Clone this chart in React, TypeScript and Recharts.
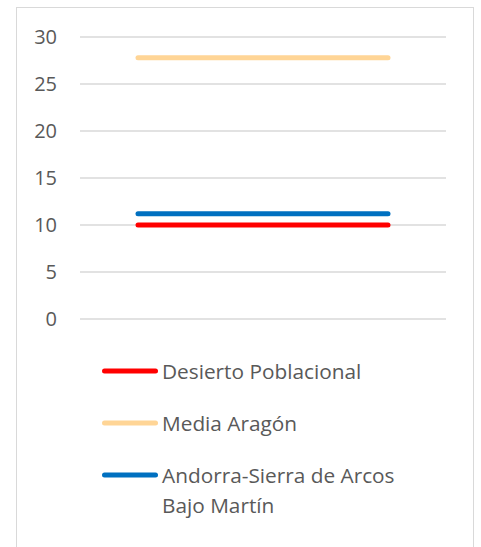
import { LineChart, Line, XAxis, YAxis, CartesianGrid, Legend } from "recharts";

const CATEGORIES = ["inicio", "fin"];
const DESIERTO = [10, 10];
const MEDIA_ARAGON = [27.8, 27.8];
const ANDORRA = [11.2, 11.2];
const Y_TICKS = [0, 5, 10, 15, 20, 25, 30];

const SERIES = [
  { key: "desierto", name: "Desierto Poblacional", color: "#ff0000", values: DESIERTO },
  { key: "media", name: "Media Aragón", color: "#ffd596", values: MEDIA_ARAGON },
  { key: "andorra", name: "Andorra-Sierra de Arcos Bajo Martín", color: "#0070c0", values: ANDORRA },
];

const data = CATEGORIES.map((c, i) => {
  const row: Record<string, string | number> = { cat: c };
  SERIES.forEach((s) => (row[s.key] = s.values[i]));
  return row;
});

const FONT = "'Open Sans', sans-serif";
const TEXT = "#595959";

function LegendList({ payload }: any) {
  // keep the series order, not the alphabetical one
  const items = [...(payload || [])].sort(
    (a: any, b: any) =>
      SERIES.findIndex((s) => s.key === a.dataKey) - SERIES.findIndex((s) => s.key === b.dataKey)
  );
  return (
    <div style={{ fontFamily: FONT, fontSize: 20.8, color: TEXT, lineHeight: "30px" }}>
      {items.map((p: any, i: number) => (
        <div key={i} style={{ display: "flex", alignItems: "flex-start", marginBottom: 22 }}>
          <svg width={63} height={30} style={{ flex: "none" }}>
            <line x1={5.5} y1={15} x2={56.5} y2={15} stroke={p.color} strokeWidth={5} strokeLinecap="round" />
          </svg>
          <span style={{ width: 250 }}>{p.value}</span>
        </div>
      ))}
    </div>
  );
}

export default function App() {
  return (
    <div style={{ position: "absolute", left: 0, top: 0, width: 481, height: 547, background: "#fff" }}>
      <div
        style={{
          position: "absolute",
          left: 16,
          top: 7,
          width: 458,
          height: 560,
          border: "1.5px solid #d9d9d9",
          boxSizing: "border-box",
        }}
      />
      <LineChart
        width={481}
        height={547}
        data={data}
        margin={{ top: 37, right: 35, bottom: 228, left: 20 }}
      >
        <CartesianGrid vertical={false} stroke="#d9d9d9" strokeWidth={1.3} />
        <XAxis dataKey="cat" hide padding={{ left: 58, right: 58 }} />
        <YAxis
          width={60}
          domain={[0, 30]}
          ticks={Y_TICKS}
          axisLine={false}
          tickLine={false}
          tickMargin={17}
          tick={{ fill: TEXT, fontSize: 20, fontFamily: FONT }}
        />
        {SERIES.map((s) => (
          <Line
            key={s.key}
            dataKey={s.key}
            name={s.name}
            stroke={s.color}
            strokeWidth={5}
            strokeLinecap="round"
            dot={false}
            activeDot={false}
            isAnimationActive={false}
          />
        ))}
        <Legend
          layout="horizontal"
          verticalAlign="middle"
          align="center"
          content={<LegendList />}
          wrapperStyle={{ top: 356, left: 99, width: 360, height: 190 }}
        />
      </LineChart>
    </div>
  );
}
